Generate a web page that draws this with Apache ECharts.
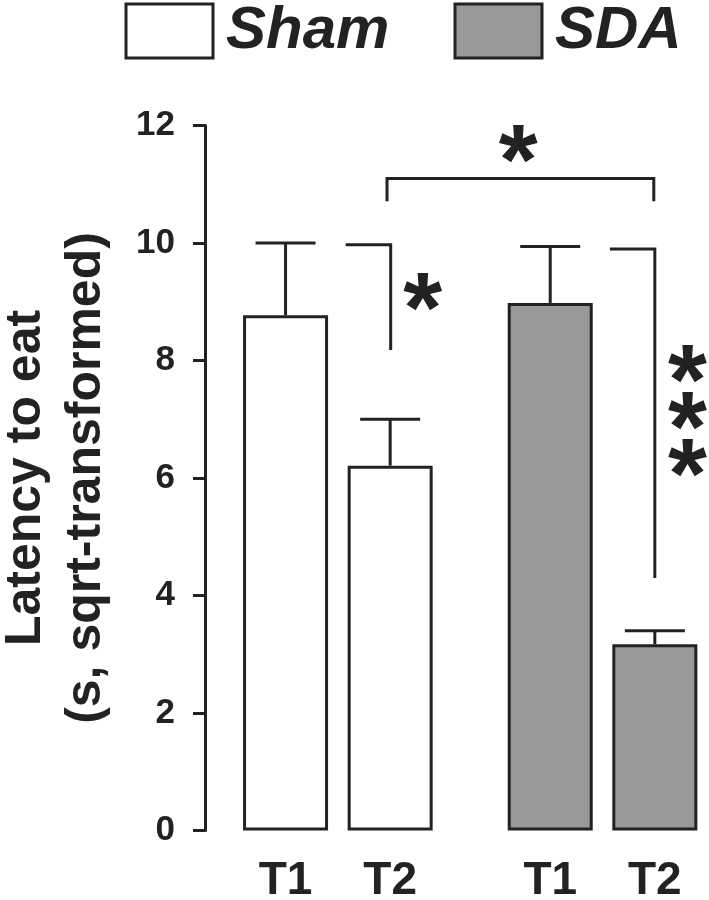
<!DOCTYPE html>
<html>
<head>
<meta charset="utf-8">
<script src="https://cdn.jsdelivr.net/npm/echarts@6/dist/echarts.min.js"></script>
<style>html,body{margin:0;padding:0;background:#fff}#c{width:709px;height:900px}</style>
</head>
<body>
<div id="c"></div>
<script>
// ---- data ----
var tickLabels = ['T1', 'T2', 'T1', 'T2'];
var barPositions = [0, 1, 2.53, 3.53];
var shamMeans = [8.77, 6.21];
var sdaMeans = [8.98, 3.17];
var shamUpper = [10.0, 7.0];
var sdaUpper = [9.94, 3.40];
var yTicks = [0, 2, 4, 6, 8, 10, 12];
var bracketTop = [[0.97, 10.71], [0.97, 11.10], [3.52, 11.10], [3.52, 10.71]];
var bracketSham = [[0.575, 9.97], [1.005, 9.97], [1.005, 8.18]];
var bracketSda = [[3.10, 9.90], [3.53, 9.90], [3.53, 4.30]];
var starPoints = [[2.223, 11.63], [1.31, 9.10], [3.843, 7.89], [3.843, 7.09], [3.843, 6.28]];

var INK = '#222';
var FONT = '"Liberation Sans", Arial, sans-serif';

var shamData = shamMeans.map(function (v, i) { return [barPositions[i], v]; });
var sdaData = sdaMeans.map(function (v, i) { return [barPositions[i + 2], v]; });
var errData = shamMeans.map(function (v, i) { return [barPositions[i], v, shamUpper[i]]; })
  .concat(sdaMeans.map(function (v, i) { return [barPositions[i + 2], v, sdaUpper[i]]; }));

function bracketSeries(pts) {
  return {
    type: 'line', data: pts, symbol: 'none', silent: true, z: 5,
    lineStyle: { color: INK, width: 3, join: 'miter', cap: 'butt' },
    animation: false
  };
}

var legendText = { fontSize: 60, fontWeight: 'bold', fontStyle: 'italic', color: INK, fontFamily: FONT, padding: [0, 0, 0, 8] };

var chart = echarts.init(document.getElementById('c'), null, { renderer: 'canvas' });
chart.setOption({
  animation: false,
  backgroundColor: '#fff',
  grid: { left: 205, right: 5, top: 125.5, bottom: 69.5, containLabel: false, outerBoundsMode: 'none' },
  legend: [
    { data: ['Sham'], left: 119.5, top: -4, itemWidth: 87, itemHeight: 54, icon: 'rect',
      itemStyle: { borderColor: INK, borderWidth: 3 }, textStyle: legendText },
    { data: ['SDA'], left: 448.5, top: -4, itemWidth: 87, itemHeight: 54, icon: 'rect',
      itemStyle: { borderColor: INK, borderWidth: 3 }, textStyle: legendText }
  ],
  xAxis: {
    type: 'value', min: -0.77, max: 4.0,
    axisLine: { show: false }, axisTick: { show: false }, splitLine: { show: false },
    axisLabel: {
      customValues: barPositions,
      formatter: function (v) {
        for (var i = 0; i < barPositions.length; i++) if (Math.abs(barPositions[i] - v) < 1e-6) return tickLabels[i];
        return '';
      },
      fontSize: 46, fontWeight: 'bold', color: INK, fontFamily: FONT, margin: 28
    }
  },
  yAxis: {
    type: 'value', min: 0, max: 12, interval: 2,
    name: 'Latency to eat\n(s, sqrt-transformed)',
    nameLocation: 'middle', nameGap: 89,
    nameTextStyle: { fontSize: 50, fontWeight: 'bold', color: INK, fontFamily: FONT, lineHeight: 60 },
    axisLine: { show: true, onZero: false, lineStyle: { color: INK, width: 3 } },
    axisTick: { show: true, inside: false, length: 12, lineStyle: { color: INK, width: 3 } },
    splitLine: { show: false },
    axisLabel: {
      fontSize: 35, fontWeight: 'bold', color: INK, fontFamily: FONT, margin: 30,
      formatter: function (v) { return yTicks.indexOf(v) >= 0 ? String(v) : ''; }
    }
  },
  series: [
    { name: 'Sham', type: 'bar', data: shamData, barWidth: 85, barGap: '-100%', clip: false, z: 2,
      itemStyle: { color: '#ffffff', borderColor: INK, borderWidth: 3 } },
    { name: 'SDA', type: 'bar', data: sdaData, barWidth: 85, barGap: '-100%', clip: false, z: 2,
      itemStyle: { color: '#999999', borderColor: INK, borderWidth: 3 } },
    { type: 'custom', data: errData, z: 3, clip: false,
      encode: { x: 0, y: [1, 2] },
      renderItem: function (params, api) {
        var x = api.value(0);
        var p0 = api.coord([x, api.value(1)]);
        var p1 = api.coord([x, api.value(2)]);
        var style = { stroke: INK, lineWidth: 3, lineCap: 'butt' };
        return { type: 'group', children: [
          { type: 'line', shape: { x1: p0[0], y1: p0[1], x2: p1[0], y2: p1[1] }, style: style },
          { type: 'line', shape: { x1: p1[0] - 30, y1: p1[1], x2: p1[0] + 30, y2: p1[1] }, style: style }
        ] };
      }
    },
    bracketSeries(bracketTop),
    bracketSeries(bracketSham),
    bracketSeries(bracketSda),
    { type: 'custom', data: starPoints, z: 6, clip: false, silent: true,
      encode: { x: 0, y: 1 },
      renderItem: function (params, api) {
        var p = api.coord([api.value(0), api.value(1)]);
        return { type: 'text', x: p[0], y: p[1] + 19,
          style: { text: '*', fill: INK, font: 'bold 100px ' + FONT, align: 'center', verticalAlign: 'middle' } };
      }
    }
  ]
});
</script>
</body>
</html>
